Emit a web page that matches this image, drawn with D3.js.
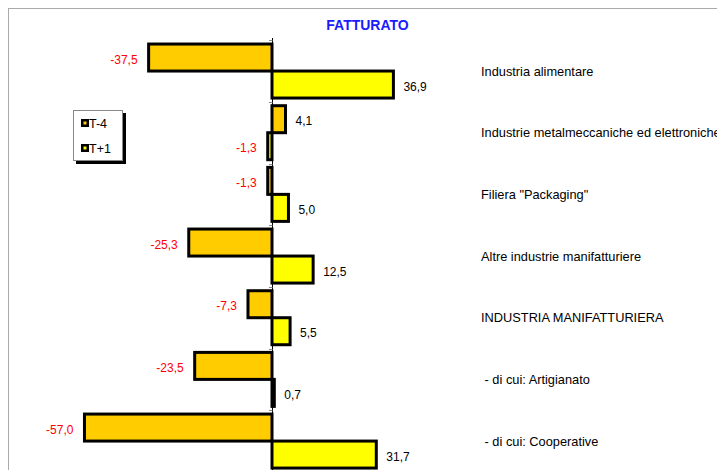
<!DOCTYPE html>
<html>
<head>
<meta charset="utf-8">
<script src="https://cdn.jsdelivr.net/npm/d3@7"></script>
<style>
  body { margin: 0; background: #fff; }
  text { font-family: Arial, "Liberation Sans", sans-serif; }
</style>
</head>
<body>
<div class="viz"></div>
<script>
var categories = [
  "Industria alimentare",
  "Industrie metalmeccaniche ed elettroniche",
  "Filiera \"Packaging\"",
  "Altre industrie manifatturiere",
  "INDUSTRIA MANIFATTURIERA",
  " - di cui: Artigianato",
  " - di cui: Cooperative"
];
var seriesNames = ["T-4", "T+1"];
var valuesT4 = [-37.5, 4.1, -1.3, -25.3, -7.3, -23.5, -57.0];
var valuesT1 = [36.9, -1.3, 5.0, 12.5, 5.5, 0.7, 31.7];
var colors = ["#ffcc00", "#ffff00"];

var width = 717, height = 470;

var svg = d3.select(".viz").append("svg")
  .attr("width", width)
  .attr("height", height);

// grey frame of the chart area (cut at right/bottom)
svg.append("rect")
  .attr("x", 8.5).attr("y", 8.5)
  .attr("width", 900).attr("height", 700)
  .attr("fill", "none")
  .attr("stroke", "#aaa");

svg.append("text")
  .attr("x", 367.5).attr("y", 30)
  .attr("text-anchor", "middle")
  .style("font-size", "14px")
  .style("font-weight", "bold")
  .attr("fill", "#1a1aff")
  .text("FATTURATO");

var x = d3.scaleLinear().domain([-60, 60]).range([74.6, 469.4]);
var y0 = d3.scaleBand().domain(categories).range([40.2, 471.9]);
var y1 = d3.scaleBand().domain(seriesNames).range([0, y0.bandwidth()]).paddingOuter(0.142);

var rows = categories.map(function (c, i) {
  return { cat: c, vals: [
    { s: "T-4", v: valuesT4[i] },
    { s: "T+1", v: valuesT1[i] }
  ] };
});

// italian style: hyphen minus and decimal comma
var fmt = function (v) {
  return (v < 0 ? "-" : "") + d3.format(".1f")(Math.abs(v)).replace(".", ",");
};

var g = svg.append("g");

var groups = g.selectAll("g.grp")
  .data(rows)
  .enter()
  .append("g")
  .attr("class", "grp")
  .attr("transform", function (d) { return "translate(0," + y0(d.cat) + ")"; });

groups.selectAll("rect")
  .data(function (d) { return d.vals; })
  .enter()
  .append("rect")
  .attr("x", function (d) { return x(Math.min(0, d.v)); })
  .attr("y", function (d) { return y1(d.s); })
  .attr("width", function (d) { return Math.abs(x(d.v) - x(0)); })
  .attr("height", y1.bandwidth())
  .attr("fill", function (d, i) { return colors[i]; })
  .attr("stroke", "#000")
  .attr("stroke-width", 3);

groups.selectAll("text.val")
  .data(function (d) { return d.vals; })
  .enter()
  .append("text")
  .attr("class", "val")
  .attr("x", function (d) { return d.v < 0 ? x(d.v) - 11 : x(d.v) + 10; })
  .attr("y", function (d) { return y1(d.s) + y1.bandwidth() / 2 + 2; })
  .attr("dy", "0.35em")
  .attr("text-anchor", function (d) { return d.v < 0 ? "end" : "start"; })
  .style("font-size", "12px")
  .attr("fill", function (d) { return d.v < 0 ? "#ff0000" : "#000"; })
  .text(function (d) { return fmt(d.v); });

// category labels on the right
g.selectAll("text.cat")
  .data(categories)
  .enter()
  .append("text")
  .attr("class", "cat")
  .attr("x", 481)
  .attr("y", function (d) { return y0(d) + y0.bandwidth() / 2; })
  .attr("dy", "0.35em")
  .style("font-size", "12.8px")
  .attr("fill", "#000")
  .style("white-space", "pre")
  .text(function (d) { return d; });

// vertical zero axis with category ticks
g.append("line")
  .attr("x1", x(0) + 0.5).attr("x2", x(0) + 0.5)
  .attr("y1", 38).attr("y2", height)
  .attr("stroke", "#000")
  .attr("stroke-width", 1);

g.selectAll("line.tk")
  .data(d3.range(categories.length + 1))
  .enter()
  .append("line")
  .attr("class", "tk")
  .attr("x1", x(0) - 3).attr("x2", x(0) + 0.5)
  .attr("y1", function (i) { return Math.round(y0.range()[0] + i * y0.step()) + 0.5; })
  .attr("y2", function (i) { return Math.round(y0.range()[0] + i * y0.step()) + 0.5; })
  .attr("stroke", "#888");

// legend
var lg = svg.append("g").attr("transform", "translate(73,110)");
lg.append("rect").attr("x", 3).attr("y", 3).attr("width", 50).attr("height", 51).attr("fill", "#000");
lg.append("rect").attr("x", 0.5).attr("y", 0.5).attr("width", 49).attr("height", 50)
  .attr("fill", "#fff").attr("stroke", "#888");

seriesNames.forEach(function (s, i) {
  var yy = 9 + i * 25;
  lg.append("rect").attr("x", 8).attr("y", yy).attr("width", 8).attr("height", 8).attr("fill", "#000");
  lg.append("rect").attr("x", 10.5).attr("y", yy + 2.5).attr("width", 3).attr("height", 3).attr("fill", colors[i]);
  lg.append("text")
    .attr("x", 16).attr("y", yy + 9)
    .style("font-size", "12.5px")
    .attr("fill", "#000")
    .text(s);
});
</script>
</body>
</html>
